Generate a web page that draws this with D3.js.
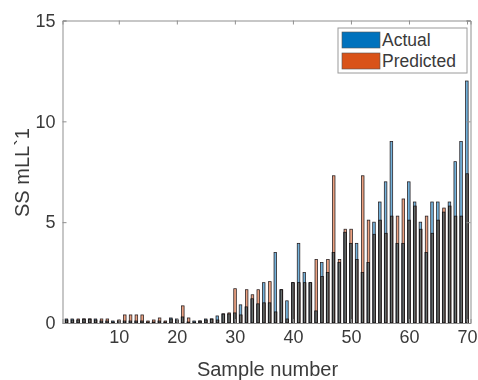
<!DOCTYPE html>
<html>
<head>
<meta charset="utf-8">
<script src="https://cdn.jsdelivr.net/npm/d3@7"></script>
<style>
  body { margin: 0; background: #fff; }
  svg { display: block; font-family: "Liberation Sans", Arial, sans-serif; }
  .bar { mix-blend-mode: multiply; }
</style>
</head>
<body>
<div id="chart"></div>
<script>
// data
const sampleIds = d3.range(1, 71);
const actual = [
  0.2, 0.2, 0.15, 0.2, 0.2, 0.2, 0.1, 0.1, 0.1, 0.1,
  0.1, 0.1, 0.1, 0.1, 0.05, 0.05, 0.1, 0.05, 0.25, 0.2,
  0.3, 0.05, 0.1, 0.1, 0.2, 0.2, 0.35, 0.45, 0.45, 0.5,
  0.9, 0.8, 1.2, 0.95, 2.0, 1.0, 3.5, 1.65, 1.1, 2.0,
  3.95, 2.5, 2.0, 0.6, 3.0, 2.5, 3.5, 3.0, 4.5, 3.95,
  3.95, 2.5, 3.0, 5.0, 6.0, 7.0, 9.0, 3.95, 3.95, 7.0,
  6.0, 5.0, 3.5, 6.0, 6.0, 5.5, 6.0, 8.0, 9.0, 12.0
];
const predicted = [
  0.15, 0.15, 0.2, 0.2, 0.2, 0.15, 0.2, 0.2, 0.05, 0.15,
  0.4, 0.4, 0.4, 0.4, 0.1, 0.15, 0.25, 0.1, 0.2, 0.15,
  0.85, 0.25, 0.05, 0.1, 0.15, 0.2, 0.15, 0.45, 0.5, 1.7,
  0.4, 1.65, 1.4, 1.65, 1.0, 2.05, 0.55, 1.65, 0.2, 2.0,
  2.0, 2.0, 2.0, 3.15, 2.3, 3.15, 7.3, 3.15, 4.65, 4.65,
  3.15, 7.3, 5.1, 4.4, 5.1, 4.45, 5.3, 5.3, 6.15, 5.1,
  5.8, 4.65, 5.3, 4.45, 5.1, 5.7, 5.8, 5.3, 5.3, 7.4
];
const xTicks = [10, 20, 30, 40, 50, 60, 70];
const yTicks = [0, 5, 10, 15];
const seriesNames = ["Actual", "Predicted"];
const seriesColors = ["#0072BD", "#D95319"];

const width = 478, height = 380;
const margin = { top: 20.5, right: 7.5, bottom: 57, left: 62.5 };
const innerW = width - margin.left - margin.right;
const innerH = height - margin.top - margin.bottom;

const svg = d3.select("#chart").append("svg")
    .attr("width", width)
    .attr("height", height);

const g = svg.append("g")
    .attr("transform", `translate(${margin.left},${margin.top})`);

// scales
const x = d3.scaleLinear().domain([0.3, 70.6]).range([0, innerW]);
const y = d3.scaleLinear().domain([0, 15]).range([innerH, 0]);

const barW = x(0.44) - x(0);
const offsets = [-0.03, 0.03];

// bars: both series on the same slot, the shared part comes out dark
const barsG = g.append("g").style("isolation", "isolate");
[actual, predicted].forEach((vals, s) => {
  barsG.append("g")
    .selectAll("rect")
    .data(sampleIds)
    .enter()
    .append("rect")
      .attr("class", "bar")
      .attr("x", (d, i) => x(d + offsets[s]) - barW / 2)
      .attr("y", (d, i) => y(vals[i]))
      .attr("width", barW)
      .attr("height", (d, i) => y(0) - y(vals[i]))
      .attr("fill", seriesColors[s])
      .attr("fill-opacity", 0.55)
      .attr("stroke", "#221b1d")
      .attr("stroke-width", 0.75);
});

// axes (MATLAB style box, ticks inward)
const axisColor = "#8f8f8f";
const textColor = "#3a3a3a";

const xAxis = g.append("g")
    .attr("transform", `translate(0,${innerH})`)
    .call(d3.axisBottom(x).tickValues(xTicks).tickSize(-4).tickPadding(7));
const xTop = g.append("g")
    .call(d3.axisTop(x).tickValues(xTicks).tickSize(-4).tickFormat(""));
const yAxis = g.append("g")
    .call(d3.axisLeft(y).tickValues(yTicks).tickSize(-4).tickPadding(7));
const yRight = g.append("g")
    .attr("transform", `translate(${innerW},0)`)
    .call(d3.axisRight(y).tickValues(yTicks).tickSize(-4).tickFormat(""));

[xAxis, xTop, yAxis, yRight].forEach(a => {
  a.select(".domain").attr("stroke", axisColor);
  a.selectAll(".tick line").attr("stroke", axisColor);
  a.selectAll("text")
    .attr("fill", textColor)
    .style("font-size", "18px");
});

// axis labels
svg.append("text")
    .attr("x", margin.left + innerW / 2 + 1)
    .attr("y", 376)
    .attr("text-anchor", "middle")
    .attr("fill", textColor)
    .style("font-size", "20px")
    .text("Sample number");

svg.append("text")
    .attr("transform", `translate(29,${margin.top + 152}) rotate(-90)`)
    .attr("text-anchor", "middle")
    .attr("fill", textColor)
    .style("font-size", "20px")
    .text("SS mLL`1");

// legend
const legend = svg.append("g").attr("transform", "translate(338,28)");
legend.append("rect")
    .attr("width", 129)
    .attr("height", 45)
    .attr("fill", "#fff")
    .attr("stroke", "#9a9a9a");

seriesNames.forEach((name, i) => {
  legend.append("rect")
    .attr("x", 4)
    .attr("y", 4 + i * 21)
    .attr("width", 38)
    .attr("height", 16)
    .attr("fill", seriesColors[i])
    .attr("stroke", "#555")
    .attr("stroke-width", 0.6);
  legend.append("text")
    .attr("x", 44)
    .attr("y", 12 + i * 21)
    .attr("dy", "0.35em")
    .attr("fill", textColor)
    .style("font-size", "17.5px")
    .text(name);
});
</script>
</body>
</html>
